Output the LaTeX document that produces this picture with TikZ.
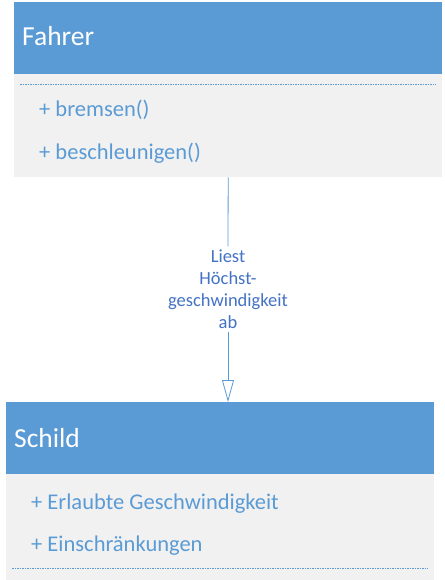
\documentclass[tikz,border=0pt]{standalone}
\usepackage{fontspec}
\setmainfont{Carlito}
\usetikzlibrary{arrows.meta}
\definecolor{hdr}{HTML}{5B9BD5}
\definecolor{bodyc}{HTML}{F1F1F1}
\definecolor{txt}{HTML}{5B9BD5}
\definecolor{lbl}{HTML}{4472C4}
\begin{document}
\begin{tikzpicture}[x=1pt,y=-1pt,
  head/.style={fill=hdr, draw=none, inner sep=0pt, anchor=north west, minimum width=428pt, minimum height=72pt},
  bodybox/.style={fill=bodyc, draw=none, inner sep=0pt, anchor=north west, minimum width=428pt},
  title/.style={anchor=base west, inner sep=0pt, text=white, font=\fontsize{27.5}{33}\selectfont},
  member/.style={anchor=base west, inner sep=0pt, text=txt, font=\fontsize{22.5}{27}\selectfont},
  sepline/.style={draw=txt, dash pattern=on 1.5pt off 1pt, line width=0.8pt},
  conn/.style={draw=txt, line width=0.8pt},
  lab/.style={align=center, text=lbl, font=\fontsize{18.5}{22}\selectfont, inner xsep=2pt, inner ysep=3pt}
]
\useasboundingbox (0,0) rectangle (444,580);
\fill[white] (0,0) rectangle (444,580);

% Fahrer
\node[head] (fh) at (14,2) {};
\node[bodybox, minimum height=103pt] (fb) at (14,74) {};
\node[title] (ft) at (22,46) {Fahrer};
\draw[sepline] ([xshift=6pt,yshift=-10pt]fb.north west) coordinate (fs1) -- ([xshift=-7pt,yshift=-10pt]fb.north east) coordinate (fs2);
\node[member] (fm1) at (39,116.5) {+ bremsen()};
\node[member] (fm2) at (39,159.5) {+ beschleunigen()};

% Schild
\node[head] (sh) at (6,402) {};
\node[bodybox, minimum height=106pt] (sb) at (6,474) {};
\node[title] (st) at (14,447) {Schild};
\node[member] (sm1) at (31,509) {+ Erlaubte Geschwindigkeit};
\node[member] (sm2) at (31,551.5) {+ Einschränkungen};
\draw[sepline] ([xshift=6pt,yshift=-94pt]sb.north west) coordinate (ss1) -- ([xshift=-7pt,yshift=-94pt]sb.north east) coordinate (ss2);

% connector
\node[lab] (lbl) at (228,289) {Liest\\Höchst-\\geschwindigkeit\\ab};
\draw[conn] (fb.south) -- (lbl.north);
\draw[conn, -{Triangle[open, length=22pt, width=12pt, fill=white]}] (lbl.south) -- (lbl.south |- sh.north);
\end{tikzpicture}
\end{document}
